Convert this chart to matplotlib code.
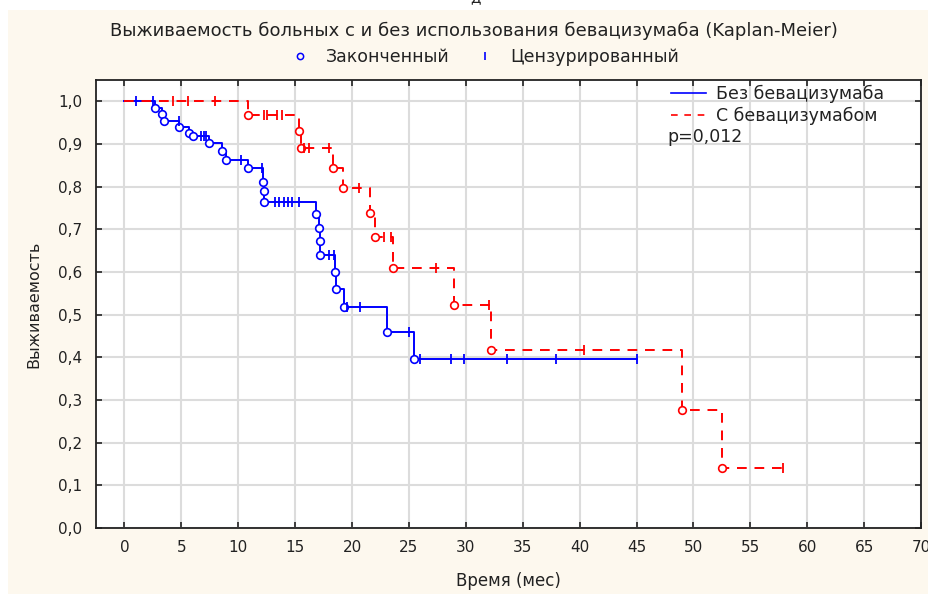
# imports

import matplotlib
matplotlib.use('Agg')
import matplotlib.pyplot as plt
import numpy as np
from matplotlib.lines import Line2D
from matplotlib.patches import Rectangle
from matplotlib.ticker import FuncFormatter

# data

# Без бевацизумаба: event times and survival after each event
BLUE_T = [2.7, 3.3, 3.5, 4.8, 5.7, 6.0, 7.4, 8.6, 8.9, 10.9, 12.2, 12.25, 12.3,
          16.8, 17.1, 17.15, 17.2, 18.5, 18.55, 19.3, 23.05, 25.45]
BLUE_S = [0.985, 0.970, 0.955, 0.940, 0.926, 0.918, 0.902, 0.883, 0.863, 0.844,
          0.812, 0.789, 0.765, 0.736, 0.703, 0.672, 0.640, 0.601, 0.560, 0.517,
          0.460, 0.396]
BLUE_CENS = [1.05, 2.5, 4.75, 6.7, 6.95, 7.2, 10.2, 12.1, 13.2, 13.6, 14.0, 14.4,
             14.7, 15.3, 18.0, 18.4, 19.6, 20.7, 25.0, 26.0, 28.7, 29.8, 33.6,
             37.9, 45.0]

# С бевацизумабом
RED_T = [10.9, 15.3, 15.5, 18.3, 19.2, 21.6, 22.0, 23.6, 29.0, 32.2, 49.0, 52.5]
RED_S = [0.967, 0.930, 0.891, 0.844, 0.798, 0.738, 0.683, 0.609, 0.523, 0.417,
         0.277, 0.140]
RED_CENS = [4.3, 5.6, 8.0, 12.25, 12.55, 13.4, 13.85, 15.8, 16.2, 18.0, 20.6,
            22.8, 23.4, 27.4, 32.0, 40.4, 57.85]

X_TICKS = list(range(0, 75, 5))
Y_TICKS = [i / 10 for i in range(11)]

# functions

def step_xy(times, surv, end):
  x = [0] + list(times) + [end]
  y = [1.0] + list(surv) + [surv[-1]]
  return x, y

def surv_at(times, surv, t):
  idx = np.searchsorted(times, t, side='right')
  return 1.0 if idx == 0 else surv[idx - 1]

def draw_group(ax, times, surv, cens, color, ls):
  x, y = step_xy(times, surv, max(cens))
  line, = ax.step(x, y, where='post', color=color, lw=1.4, linestyle=ls)
  if ls == '--':
    line.set_dashes((5, 4))
  ax.plot(times, surv, 'o', mfc='white', mec=color, mew=1.2, ms=5.5, zorder=4)
  cy = [surv_at(times, surv, t) for t in cens]
  ax.plot(cens, cy, '|', color=color, mew=1.3, ms=7, zorder=4)

# figure

CREAM = '#fdf8ee'
TXT = '#222222'
fig = plt.figure(figsize=(9.29, 5.94), dpi=100, facecolor='white')
fig.patches.append(Rectangle((8 / 929, 0), 1, 1 - 10 / 594, transform=fig.transFigure,
                             facecolor=CREAM, edgecolor='none', zorder=-10))

ax = fig.add_axes([96 / 929, 66 / 594, 825 / 929, 448 / 594])
ax.set_facecolor('white')

draw_group(ax, BLUE_T, BLUE_S, BLUE_CENS, '#0000ff', '-')
draw_group(ax, RED_T, RED_S, RED_CENS, '#ff0000', '--')

ax.set_xlim(-2.5, 70)
ax.set_ylim(0, 1.05)
ax.set_xticks(X_TICKS)
ax.set_yticks(Y_TICKS)
ax.yaxis.set_major_formatter(FuncFormatter(lambda v, p: f'{v:.1f}'.replace('.', ',')))
ax.grid(True, color='#dcdcdc', lw=1.5)
ax.set_axisbelow(True)
ax.tick_params(direction='in', length=4, width=1.2, top=True, right=True,
               labelsize=11, colors=TXT)
ax.tick_params(axis='x', pad=9)
ax.tick_params(axis='y', pad=10)
for s in ax.spines.values():
  s.set_linewidth(1.3)
  s.set_color(TXT)

# texts
ax.set_xlabel('Время (мес)', fontsize=12, labelpad=12, color=TXT)
ax.set_ylabel('Выживаемость', fontsize=11.5, labelpad=12, color=TXT)
fig.text(0.51, 1 - 31 / 594, 'Выживаемость больных с и без использования бевацизумаба (Kaplan-Meier)',
         ha='center', va='center', fontsize=13, color=TXT)
fig.text(0.512, 1.004, 'д', ha='center', va='center', fontsize=11, color=TXT)

top_handles = [Line2D([], [], marker='o', ls='none', mfc='none', mec='#0000ff', ms=4.5, mew=1.1),
               Line2D([], [], marker='|', ls='none', color='#0000ff', ms=6, mew=1.2)]
fig.legend(top_handles, ['Законченный', 'Цензурированный'], ncol=2, frameon=False,
           loc='center', bbox_to_anchor=(0.518, 1 - 57 / 594), fontsize=12.5,
           handletextpad=0.5, columnspacing=1.0, labelcolor=TXT)

leg_handles = [Line2D([], [], color='#0000ff', lw=1.2),
               Line2D([], [], color='#ff0000', lw=1.2, ls=(0, (4, 4)))]
ax.legend(leg_handles, ['Без бевацизумаба', 'С бевацизумабом'], loc='upper left',
          bbox_to_anchor=((664 - 96) / 825, (528 - 78) / 448), frameon=False,
          fontsize=12.5, handlelength=2.0, handletextpad=0.6, labelspacing=0.2,
          borderaxespad=0, labelcolor=TXT)
ax.text((667 - 96) / 825, (528 - 137) / 448, 'p=0,012', transform=ax.transAxes,
        ha='left', va='center', fontsize=12.5, color=TXT)

fig.savefig('out.png', dpi=100, facecolor=fig.get_facecolor())
